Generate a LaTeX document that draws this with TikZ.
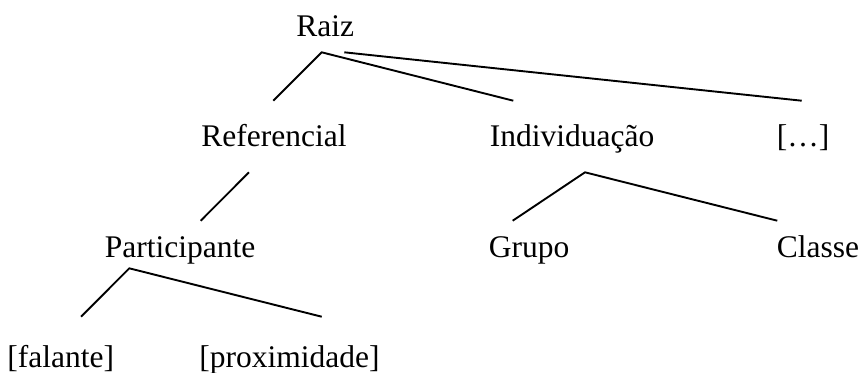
\documentclass[tikz,border=0pt]{standalone}
\usepackage{fontspec}
\setmainfont{Liberation Serif}
\begin{document}
\begin{tikzpicture}[x=0.5pt,y=-0.5pt,
  lbl/.style={anchor=base west,inner sep=0pt,font=\fontsize{15.75}{18}\selectfont},
  branch/.style={line width=0.95pt,line cap=butt}]
\useasboundingbox (0,0) rectangle (862,372);
% labels
\node[lbl] (raiz) at (296,36) {Raiz};
\node[lbl] (ref)  at (201,146.7) {Referencial};
\node[lbl] (ind)  at (489.5,146.7) {Individuação};
\node[lbl] (etc)  at (776.5,146.7) {[…]};
\node[lbl] (part) at (104.5,257.3) {Participante};
\node[lbl] (grp)  at (488.5,257.3) {Grupo};
\node[lbl] (cls)  at (776.5,257.3) {Classe};
\node[lbl] (fal)  at (7,367) {[falante]};
\node[lbl] (prox) at (199,367) {[proximidade]};
% branch end points
\coordinate (raizA) at (321.7,52.3);
\coordinate (raizB) at (344.3,52.3);
\coordinate (refT)  at (273.3,100.7);
\coordinate (indT)  at (513.3,100.7);
\coordinate (etcT)  at (801.7,100.7);
\coordinate (refB)  at (249,172.3);
\coordinate (partT) at (200.7,220.7);
\coordinate (indB)  at (585,172.3);
\coordinate (grpT)  at (512.7,220.7);
\coordinate (clsT)  at (777.3,220.7);
\coordinate (partB) at (129.3,268.3);
\coordinate (falT)  at (81,316.7);
\coordinate (proxT) at (321.7,316.7);
% branches
\draw[branch] (refT) -- (raizA) -- (indT);
\draw[branch] (raizB) -- (etcT);
\draw[branch] (refB) -- (partT);
\draw[branch] (grpT) -- (indB) -- (clsT);
\draw[branch] (falT) -- (partB) -- (proxT);
\end{tikzpicture}
\end{document}
